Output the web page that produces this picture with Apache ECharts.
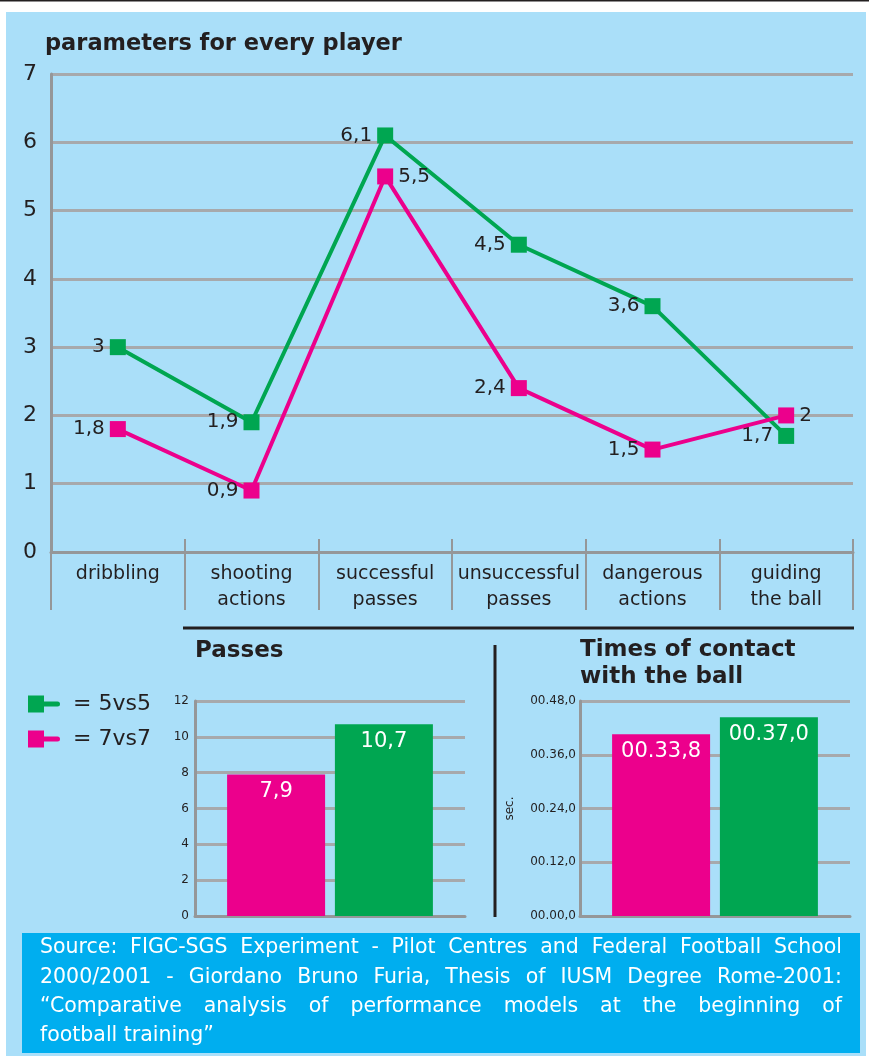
<!DOCTYPE html>
<html><head><meta charset="utf-8">
<script src="https://cdn.jsdelivr.net/npm/echarts@6/dist/echarts.min.js"></script>
<style>html,body{margin:0;padding:0;background:#fff}#c{width:869px;height:1056px}</style>
</head><body><div id="c"></div>
<script>
// ---- data ----
const categories = ['dribbling', 'shooting\nactions', 'successful\npasses', 'unsuccessful\npasses', 'dangerous\nactions', 'guiding\nthe ball'];
const values5vs5 = [3, 1.9, 6.1, 4.5, 3.6, 1.7];
const values7vs7 = [1.8, 0.9, 5.5, 2.4, 1.5, 2];
const passes5vs5 = [10.7];
const passes7vs7 = [7.9];
const contact5vs5 = [37.0];   // seconds
const contact7vs7 = [33.8];   // seconds
const contactTickLabels = ['00.00,0', '00.12,0', '00.24,0', '00.36,0', '00.48,0'];
const seriesNames = ['5vs5', '7vs7'];
const titleMain = 'parameters for every player';
const titlePasses = 'Passes';
const titleContact = 'Times of contact\nwith the ball';
const sourceLines = [
  'Source: FIGC-SGS Experiment - Pilot Centres and Federal Football School',
  '2000/2001 - Giordano Bruno Furia, Thesis of IUSM Degree Rome-2001:',
  '\u201CComparative analysis of performance models at the beginning of',
  'football training\u201D'
];

// ---- styles ----
const GREEN = '#00a651', PINK = '#ec008c', INK = '#231f20';
const BG = '#aadff9', BOX = '#00aeef';
const AXIS = '#959799', GRIDC = '#a7a9ac';
const FONT = 'DejaVu Sans';
const comma = v => String(v).replace('.', ',');
const rightLabel7 = {2: true, 5: true};

function lineData(vals, rightSet) {
  return vals.map((v, i) => ({
    value: v,
    label: {position: rightSet && rightSet[i] ? 'right' : 'left'}
  }));
}

// justified source text
const SRC_SIZE = 20.5, SRC_L = 40, SRC_R = 842, SRC_Y0 = 948, SRC_DY = 29.2;
const mctx = document.createElement('canvas').getContext('2d');
mctx.font = SRC_SIZE + 'px "' + FONT + '"';
const srcGraphics = [];
sourceLines.forEach((line, li) => {
  const y = SRC_Y0 + li * SRC_DY;
  const words = line.split(' ');
  if (li === sourceLines.length - 1 || words.length < 2) {
    srcGraphics.push({type: 'text', x: SRC_L, y: y, style: {text: line, fill: '#fff', font: SRC_SIZE + 'px "' + FONT + '"', textVerticalAlign: 'middle'}});
    return;
  }
  const widths = words.map(w => mctx.measureText(w).width);
  const total = widths.reduce((a, b) => a + b, 0);
  const gap = (SRC_R - SRC_L - total) / (words.length - 1);
  let x = SRC_L;
  words.forEach((w, wi) => {
    srcGraphics.push({type: 'text', x: x, y: y, style: {text: w, fill: '#fff', font: SRC_SIZE + 'px "' + FONT + '"', textVerticalAlign: 'middle'}});
    x += widths[wi] + gap;
  });
});

const chart = echarts.init(document.getElementById('c'), null, {renderer: 'canvas'});
const barLabel = {show: true, position: 'insideTop', distance: 7, color: '#fff', fontSize: 21, fontFamily: FONT};
const mainGrid = {left: 51, right: 16, top: 74, bottom: 504};

chart.setOption({
  backgroundColor: '#ffffff',
  animation: false,
  textStyle: {fontFamily: FONT},
  legend: {
    left: 23, top: 687, orient: 'vertical', itemGap: 11, selectedMode: false,
    data: seriesNames,
    icon: 'path://M0,0H16V17H0Z M16,6H29.5A2.5,2.5 0 0 1 29.5,11H16Z',
    itemWidth: 32, itemHeight: 17,
    formatter: '= {name}',
    textStyle: {fontSize: 22, color: INK, lineHeight: 24, padding: [0, 0, 0, 8], fontFamily: FONT}
  },
  grid: [
    mainGrid,
    {left: 195, right: 404, top: 701, bottom: 140},
    {left: 580, right: 19, top: 701, bottom: 140},
    Object.assign({}, mainGrid)
  ],
  xAxis: [
    {type: 'category', gridIndex: 0, data: categories, boundaryGap: true,
     axisLine: {lineStyle: {color: AXIS, width: 3}},
     axisTick: {show: true, interval: 0, length: 58, lineStyle: {color: AXIS, width: 2}},
     axisLabel: {interval: 0, color: INK, fontSize: 19, lineHeight: 26, margin: 9, fontFamily: FONT}},
    {type: 'category', gridIndex: 3, data: categories, boundaryGap: true,
     axisLine: {show: false},
     axisTick: {show: true, inside: true, interval: 0, length: 13, lineStyle: {color: AXIS, width: 2}},
     axisLabel: {show: false}},
    {type: 'category', gridIndex: 1, data: [titlePasses],
     axisLine: {lineStyle: {color: AXIS, width: 3}}, axisTick: {show: false}, axisLabel: {show: false}},
    {type: 'category', gridIndex: 2, data: ['contact'],
     axisLine: {lineStyle: {color: AXIS, width: 3}}, axisTick: {show: false}, axisLabel: {show: false}}
  ],
  yAxis: [
    {type: 'value', gridIndex: 0, min: 0, max: 7, interval: 1,
     axisLine: {show: true, lineStyle: {color: AXIS, width: 3}}, axisTick: {show: false},
     splitLine: {lineStyle: {color: GRIDC, width: 3}},
     axisLabel: {color: INK, fontSize: 22, margin: 14, fontFamily: FONT}},
    {type: 'value', gridIndex: 1, min: 0, max: 12, interval: 2,
     axisLine: {show: true, lineStyle: {color: AXIS, width: 3}}, axisTick: {show: false},
     splitLine: {lineStyle: {color: GRIDC, width: 3}},
     axisLabel: {color: INK, fontSize: 12, margin: 6, fontFamily: FONT}},
    {type: 'value', gridIndex: 2, min: 0, max: 40, interval: 10,
     name: 'sec.', nameLocation: 'middle', nameRotate: 90, nameGap: 64,
     nameTextStyle: {color: INK, fontSize: 12, fontFamily: FONT},
     axisLine: {show: true, lineStyle: {color: AXIS, width: 3}}, axisTick: {show: false},
     splitLine: {lineStyle: {color: GRIDC, width: 3}},
     axisLabel: {color: INK, fontSize: 12, margin: 4, fontFamily: FONT,
       formatter: v => contactTickLabels[Math.round(v / 10)]}},
    {type: 'value', gridIndex: 3, min: 0, max: 7, show: false}
  ],
  series: [
    {name: seriesNames[0], type: 'line', xAxisIndex: 0, yAxisIndex: 0, data: lineData(values5vs5, null),
     color: GREEN, lineStyle: {width: 4}, symbol: 'rect', symbolSize: 16, z: 3,
     label: {show: true, distance: 5, color: INK, fontSize: 20, fontFamily: FONT, formatter: p => comma(p.value)}},
    {name: seriesNames[1], type: 'line', xAxisIndex: 0, yAxisIndex: 0, data: lineData(values7vs7, rightLabel7),
     color: PINK, lineStyle: {width: 4}, symbol: 'rect', symbolSize: 16, z: 4,
     label: {show: true, distance: 5, color: INK, fontSize: 20, fontFamily: FONT, formatter: p => comma(p.value)}},
    {name: seriesNames[1], type: 'bar', xAxisIndex: 2, yAxisIndex: 1, data: passes7vs7, color: PINK,
     barWidth: 98, barGap: '10%', label: Object.assign({formatter: p => comma(p.value)}, barLabel)},
    {name: seriesNames[0], type: 'bar', xAxisIndex: 2, yAxisIndex: 1, data: passes5vs5, color: GREEN,
     barWidth: 98, barGap: '10%', label: Object.assign({formatter: p => comma(p.value)}, barLabel)},
    {name: seriesNames[1], type: 'bar', xAxisIndex: 3, yAxisIndex: 2, data: contact7vs7, color: PINK,
     barWidth: 98, barGap: '10%', label: Object.assign({formatter: p => '00.' + comma(p.value.toFixed(1))}, barLabel)},
    {name: seriesNames[0], type: 'bar', xAxisIndex: 3, yAxisIndex: 2, data: contact5vs5, color: GREEN,
     barWidth: 98, barGap: '10%', label: Object.assign({formatter: p => '00.' + comma(p.value.toFixed(1))}, barLabel)}
  ],
  graphic: [
    {type: 'rect', z: -100, shape: {x: 6, y: 12, width: 860, height: 1044}, style: {fill: BG}},
    {type: 'rect', z: 100, shape: {x: 856, y: 66, width: 10, height: 16}, style: {fill: BG}},
    {type: 'rect', z: -99, shape: {x: 0, y: 0, width: 869, height: 1.5}, style: {fill: INK}},
    {type: 'text', x: 45, y: 44, style: {text: titleMain, fill: INK, font: 'bold 22.5px "' + FONT + '"', textVerticalAlign: 'middle'}},
    {type: 'line', shape: {x1: 183, y1: 628, x2: 854, y2: 628}, style: {stroke: INK, lineWidth: 3}},
    {type: 'line', shape: {x1: 495, y1: 645, x2: 495, y2: 917}, style: {stroke: INK, lineWidth: 3}},
    {type: 'text', x: 195, y: 651, style: {text: titlePasses, fill: INK, font: 'bold 23px "' + FONT + '"', textVerticalAlign: 'middle'}},
    {type: 'text', x: 580, y: 637, style: {text: titleContact, fill: INK, font: 'bold 23px "' + FONT + '"', lineHeight: 27, textVerticalAlign: 'top'}},
    {type: 'rect', z: -98, shape: {x: 22, y: 933, width: 838, height: 120}, style: {fill: BOX}}
  ].concat(srcGraphics)
});
</script>
</body></html>
